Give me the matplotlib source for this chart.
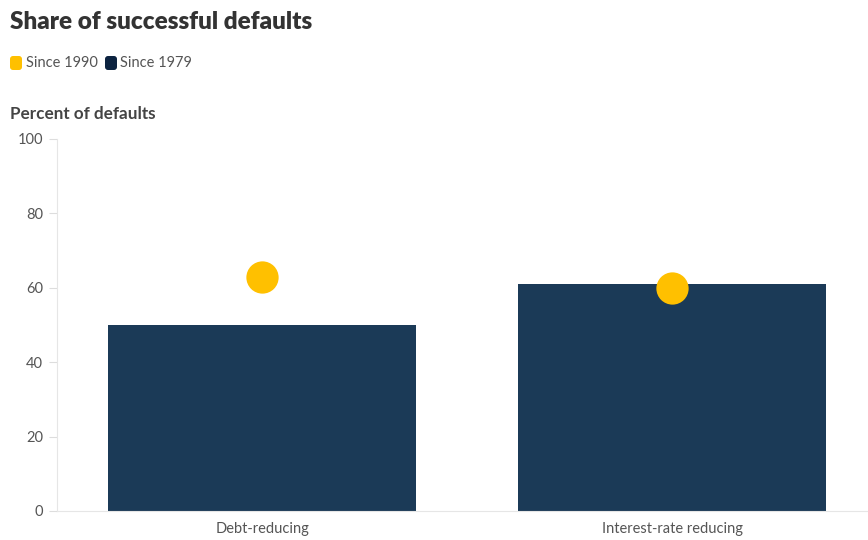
import matplotlib.pyplot as plt
from matplotlib.patches import FancyBboxPatch

# data
categories = ['Debt-reducing', 'Interest-rate reducing']
since_1979 = [50, 61]
since_1990 = [63, 60]
yticks = [0, 20, 40, 60, 80, 100]

navy = '#1b3a57'
yellow = '#ffc000'
grey_text = '#555555'

plt.rcParams['font.family'] = ['Lato', 'DejaVu Sans']

fig = plt.figure(figsize=(8.68, 5.40), dpi=100)
ax = fig.add_axes([57 / 868, 29 / 540, 811 / 868, 372 / 540])

x = list(range(len(categories)))
ax.bar(x, since_1979, width=0.75, color=navy, zorder=2)
ax.scatter(x, since_1990, s=540, color=yellow, zorder=3, linewidths=0)

ax.set_xlim(-0.5, 1.477)
ax.set_ylim(0, 100)
ax.set_yticks(yticks)
ax.set_xticks(x)
ax.set_xticklabels(categories)

for s in ['top', 'right']:
    ax.spines[s].set_visible(False)
ax.spines['left'].set_color('#e6e6e6')
ax.spines['bottom'].set_color('#e6e6e6')
ax.tick_params(axis='y', colors='#dddddd', labelcolor=grey_text, labelsize=10.5, length=6, pad=4)
ax.tick_params(axis='x', length=0, labelcolor=grey_text, labelsize=10.5, pad=8)

# titles
fig.text(10 / 868, 1 - 22 / 540, 'Share of successful defaults', fontsize=17.5, fontweight='heavy',
         color='#333333', va='center')
fig.text(10 / 868, 1 - 114 / 540, 'Percent of defaults', fontsize=12.3, fontweight='bold',
         color='#444444', va='center')

# legend
legend_items = [('Since 1990', yellow, 10, 26), ('Since 1979', '#0c2340', 105, 120)]
for label, col, px, tx in legend_items:
    box = FancyBboxPatch((px / 100, (540 - 70) / 100), 0.12, 0.14,
                         boxstyle='round,pad=0,rounding_size=0.03',
                         transform=fig.dpi_scale_trans, color=col, linewidth=0)
    fig.patches.append(box)
    fig.text(tx / 868, 1 - 63 / 540, label, fontsize=10.5, color=grey_text, va='center')

fig.savefig('out.png', dpi=100)
